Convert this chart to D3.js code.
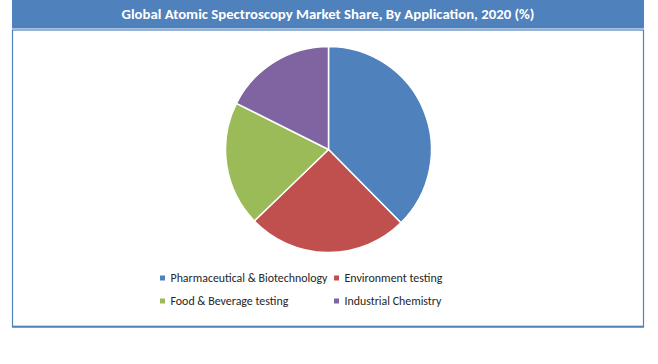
<!DOCTYPE html>
<html><head><meta charset="utf-8">
<script src="https://cdn.jsdelivr.net/npm/d3@7"></script>
<style>html,body{margin:0;padding:0;background:#fff;}svg{display:block;}</style>
</head><body>
<svg id="c" width="658" height="364"></svg>
<script>
const title = "Global Atomic Spectroscopy Market Share, By Application, 2020 (%)";
const categories = ["Pharmaceutical & Biotechnology", "Environment testing", "Food & Beverage testing", "Industrial Chemistry"];
const values = [37.6, 25.2, 19.6, 17.6];
const colors = ["#4F81BD", "#C0504D", "#9BBB59", "#8064A2"];

const svg = d3.select("#c");
const font = "Carlito, Calibri, 'Open Sans', sans-serif";

// frame
svg.append("rect").attr("x", 12).attr("y", 0).attr("width", 632).attr("height", 28.5).attr("fill", "#4F81BD");
svg.append("rect").attr("x", 12.5).attr("y", 30).attr("width", 631).attr("height", 296.5)
  .attr("fill", "none").attr("stroke", "#4F81BD").attr("stroke-width", 1.2);
svg.append("line").attr("x1", 12).attr("x2", 644).attr("y1", 326.8).attr("y2", 326.8)
  .attr("stroke", "#4F81BD").attr("stroke-width", 2);

// title
const t = svg.append("text").attr("x", 328).attr("y", 19).attr("text-anchor", "middle")
  .attr("fill", "#fff").attr("font-family", font).attr("font-weight", "bold").attr("font-size", 14)
  .text(title);
const tw = t.node().getComputedTextLength();
t.attr("font-size", 14 * 413 / tw);

// pie
const cx = 328.5, cy = 149.5, r = 103;
const pie = d3.pie().sort(null).value(d => d)(values);
const arc = d3.arc().innerRadius(0).outerRadius(r);
svg.append("g").attr("transform", `translate(${cx},${cy})`)
  .selectAll("path").data(pie).join("path")
  .attr("d", arc).attr("fill", (d, i) => colors[i])
  .attr("stroke", "#fff").attr("stroke-width", 1.5);

// legend
const lx = [160, 334], ly = [278, 301];
const targetW = [157, 98, 118, 97];
categories.forEach((c, i) => {
  const col = i % 2, row = Math.floor(i / 2);
  const g = svg.append("g");
  g.append("rect").attr("x", lx[col]).attr("y", ly[row] - 2.5).attr("width", 5).attr("height", 5).attr("fill", colors[i]);
  const tx = g.append("text").attr("x", lx[col] + 10.5).attr("y", ly[row] + 4.2)
    .attr("font-family", font).attr("font-size", 12).attr("fill", "#262626").text(c);
  const w = tx.node().getComputedTextLength();
  tx.attr("font-size", 12 * targetW[i] / w);
});
</script>
</body></html>
